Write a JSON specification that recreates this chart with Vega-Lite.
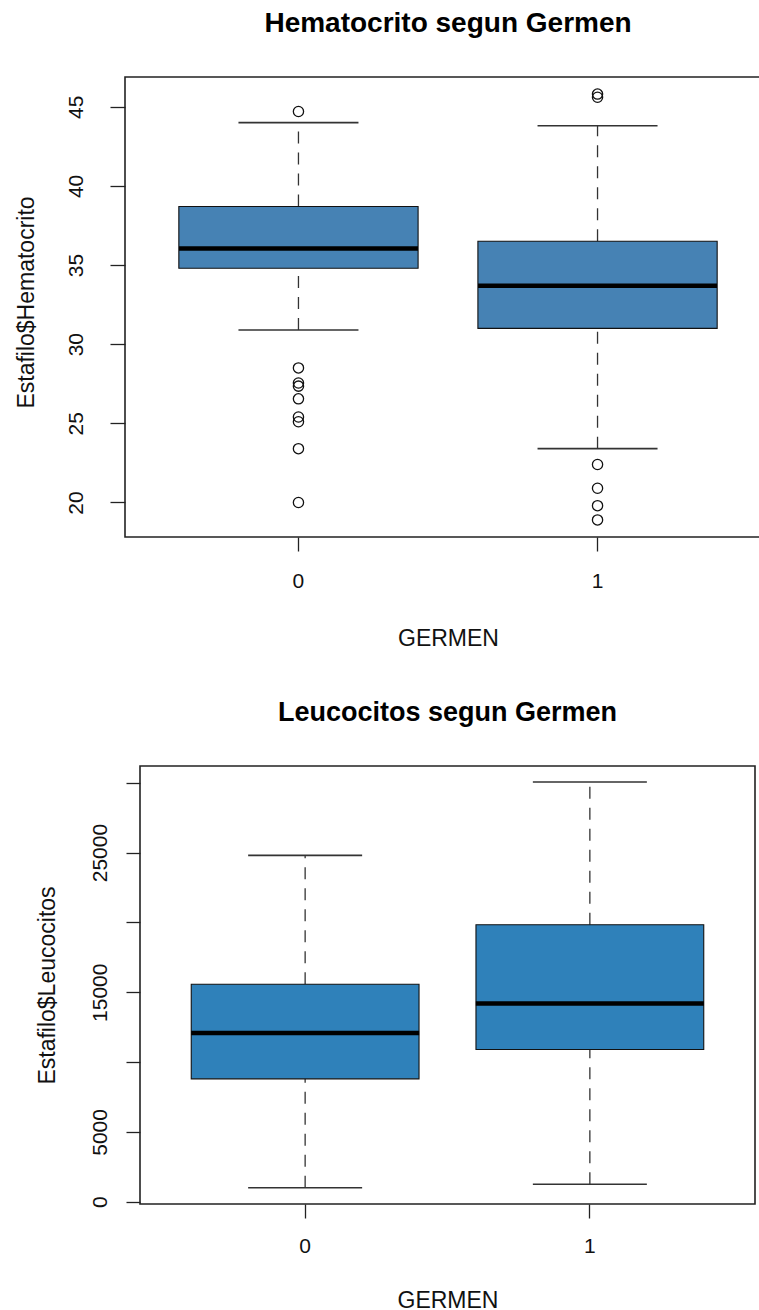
{
  "$schema": "https://vega.github.io/schema/vega-lite/v6.json",
  "padding": {"left": 14, "top": 8, "right": 0, "bottom": 0},
  "background": "white",
  "bounds": "flush",
  "spacing": 229,
  "datasets": {
    "hema_box": [
      {"GERMEN": "0", "lower": 30.9, "q1": 34.8, "median": 36.05, "q3": 38.7, "upper": 44.0},
      {"GERMEN": "1", "lower": 23.4, "q1": 31.0, "median": 33.7, "q3": 36.5, "upper": 43.8}
    ],
    "hema_out": [
      {"GERMEN": "0", "value": 44.7},
      {"GERMEN": "0", "value": 28.5},
      {"GERMEN": "0", "value": 27.55},
      {"GERMEN": "0", "value": 27.35},
      {"GERMEN": "0", "value": 26.55},
      {"GERMEN": "0", "value": 25.4},
      {"GERMEN": "0", "value": 25.1},
      {"GERMEN": "0", "value": 23.4},
      {"GERMEN": "0", "value": 20.0},
      {"GERMEN": "1", "value": 45.8},
      {"GERMEN": "1", "value": 45.6},
      {"GERMEN": "1", "value": 22.4},
      {"GERMEN": "1", "value": 20.9},
      {"GERMEN": "1", "value": 19.8},
      {"GERMEN": "1", "value": 18.9}
    ],
    "leuco_box": [
      {"GERMEN": "0", "lower": 1000, "q1": 8800, "median": 12080, "q3": 15570, "upper": 24800},
      {"GERMEN": "1", "lower": 1250, "q1": 10900, "median": 14190, "q3": 19830, "upper": 30050}
    ]
  },
  "config": {
    "font": "Liberation Sans",
    "view": {"stroke": "#222", "strokeWidth": 1.6},
    "title": {"font": "Liberation Sans", "fontSize": 27, "fontWeight": "bold", "color": "black", "anchor": "middle", "frame": "group", "baseline": "alphabetic", "offset": 39.5},
    "tick": {"opacity": 1},
    "axis": {"domain": false, "grid": false, "tickColor": "#222", "tickWidth": 1.3, "labelFont": "Liberation Sans", "labelFontSize": 21, "labelColor": "#111", "titleFont": "Liberation Sans", "titleFontSize": 23, "titleFontWeight": "normal", "titleColor": "#111"}
  },
  "vconcat": [
    {
      "title": {"text": "Hematocrito segun Germen", "fontSize": 28},
      "width": 646,
      "height": 460,
      "layer": [
        {
          "data": {"name": "hema_box"},
          "mark": {"type": "rule", "strokeDash": [12, 9], "color": "#333", "strokeWidth": 1.3},
          "encoding": {
            "x": {"field": "GERMEN", "type": "nominal", "title": "GERMEN",
              "scale": {"paddingInner": 0.2, "paddingOuter": 0.18},
              "axis": {"labelAngle": 0, "tickSize": 14, "labelPadding": 36, "labelBaseline": "alphabetic", "titleBaseline": "alphabetic", "titleY": 108}},
            "y": {"field": "lower", "type": "quantitative", "title": "Estafilo$Hematocrito",
              "scale": {"domain": [17.82, 46.88], "nice": false, "zero": false},
              "axis": {"values": [20, 25, 30, 35, 40, 45], "tickSize": 15, "labelAngle": -90, "labelAlign": "center", "labelBaseline": "alphabetic", "labelPadding": 28, "titleAngle": -90, "titleAlign": "center", "titleBaseline": "alphabetic", "titleX": -92, "titleY": 225}},
            "y2": {"field": "q1"}
          }
        },
        {
          "data": {"name": "hema_box"},
          "mark": {"type": "rule", "strokeDash": [12, 9], "color": "#333", "strokeWidth": 1.3},
          "encoding": {
            "x": {"field": "GERMEN", "type": "nominal"},
            "y": {"field": "q3", "type": "quantitative", "title": "Estafilo$Hematocrito"},
            "y2": {"field": "upper"}
          }
        },
        {
          "data": {"name": "hema_box"},
          "mark": {"type": "bar", "color": "#4682B4", "stroke": "#111", "strokeWidth": 1.1, "opacity": 1},
          "encoding": {
            "x": {"field": "GERMEN", "type": "nominal"},
            "y": {"field": "q1", "type": "quantitative", "title": "Estafilo$Hematocrito"},
            "y2": {"field": "q3"}
          }
        },
        {
          "data": {"name": "hema_box"},
          "mark": {"type": "tick", "color": "black", "size": 239, "thickness": 4.5, "opacity": 1},
          "encoding": {
            "x": {"field": "GERMEN", "type": "nominal"},
            "y": {"field": "median", "type": "quantitative", "title": "Estafilo$Hematocrito"}
          }
        },
        {
          "data": {"name": "hema_box"},
          "mark": {"type": "tick", "color": "#333", "size": 120, "thickness": 1.6, "opacity": 1},
          "encoding": {
            "x": {"field": "GERMEN", "type": "nominal"},
            "y": {"field": "upper", "type": "quantitative", "title": "Estafilo$Hematocrito"}
          }
        },
        {
          "data": {"name": "hema_box"},
          "mark": {"type": "tick", "color": "#333", "size": 120, "thickness": 1.6, "opacity": 1},
          "encoding": {
            "x": {"field": "GERMEN", "type": "nominal"},
            "y": {"field": "lower", "type": "quantitative", "title": "Estafilo$Hematocrito"}
          }
        },
        {
          "data": {"name": "hema_out"},
          "mark": {"type": "point", "shape": "circle", "filled": false, "color": "#111", "size": 105, "strokeWidth": 1.3, "opacity": 1},
          "encoding": {
            "x": {"field": "GERMEN", "type": "nominal"},
            "y": {"field": "value", "type": "quantitative", "title": "Estafilo$Hematocrito"}
          }
        }
      ]
    },
    {
      "hconcat": [
        {
          "width": 15,
          "height": 10,
          "view": {"stroke": null},
          "data": {"values": [{"k": 1}]},
          "mark": {"type": "point", "opacity": 0},
          "encoding": {}
        },
        {
          "title": {"text": "Leucocitos segun Germen"},
          "width": 615,
          "height": 438,
          "layer": [
            {
              "data": {"name": "leuco_box"},
              "mark": {"type": "rule", "strokeDash": [12, 9], "color": "#333", "strokeWidth": 1.3},
              "encoding": {
                "x": {"field": "GERMEN", "type": "nominal", "title": "GERMEN",
                  "scale": {"paddingInner": 0.2, "paddingOuter": 0.18},
                  "axis": {"labelAngle": 0, "tickSize": 14, "labelPadding": 34, "labelBaseline": "alphabetic", "titleBaseline": "alphabetic", "titleY": 103}},
                "y": {"field": "lower", "type": "quantitative", "title": "Estafilo$Leucocitos",
                  "scale": {"domain": [-160, 31200], "nice": false, "zero": false},
                  "axis": {"values": [0, 5000, 10000, 15000, 20000, 25000, 30000], "format": "d", "labelExpr": "datum.value == 10000 || datum.value == 20000 || datum.value == 30000 ? '' : datum.label", "tickSize": 14, "labelAngle": -90, "labelAlign": "center", "labelBaseline": "alphabetic", "labelPadding": 20, "titleAngle": -90, "titleAlign": "center", "titleBaseline": "alphabetic", "titleX": -86}},
                "y2": {"field": "q1"}
              }
            },
            {
              "data": {"name": "leuco_box"},
              "mark": {"type": "rule", "strokeDash": [12, 9], "color": "#333", "strokeWidth": 1.3},
              "encoding": {
                "x": {"field": "GERMEN", "type": "nominal"},
                "y": {"field": "q3", "type": "quantitative", "title": "Estafilo$Leucocitos"},
                "y2": {"field": "upper"}
              }
            },
            {
              "data": {"name": "leuco_box"},
              "mark": {"type": "bar", "color": "#2F81BA", "stroke": "#111", "strokeWidth": 1.1, "opacity": 1},
              "encoding": {
                "x": {"field": "GERMEN", "type": "nominal"},
                "y": {"field": "q1", "type": "quantitative", "title": "Estafilo$Leucocitos"},
                "y2": {"field": "q3"}
              }
            },
            {
              "data": {"name": "leuco_box"},
              "mark": {"type": "tick", "color": "black", "size": 228, "thickness": 4.5, "opacity": 1},
              "encoding": {
                "x": {"field": "GERMEN", "type": "nominal"},
                "y": {"field": "median", "type": "quantitative", "title": "Estafilo$Leucocitos"}
              }
            },
            {
              "data": {"name": "leuco_box"},
              "mark": {"type": "tick", "color": "#333", "size": 114, "thickness": 1.6, "opacity": 1},
              "encoding": {
                "x": {"field": "GERMEN", "type": "nominal"},
                "y": {"field": "upper", "type": "quantitative", "title": "Estafilo$Leucocitos"}
              }
            },
            {
              "data": {"name": "leuco_box"},
              "mark": {"type": "tick", "color": "#333", "size": 114, "thickness": 1.6, "opacity": 1},
              "encoding": {
                "x": {"field": "GERMEN", "type": "nominal"},
                "y": {"field": "lower", "type": "quantitative", "title": "Estafilo$Leucocitos"}
              }
            }
          ]
        }
      ],
      "spacing": 0,
      "bounds": "flush"
    }
  ]
}
